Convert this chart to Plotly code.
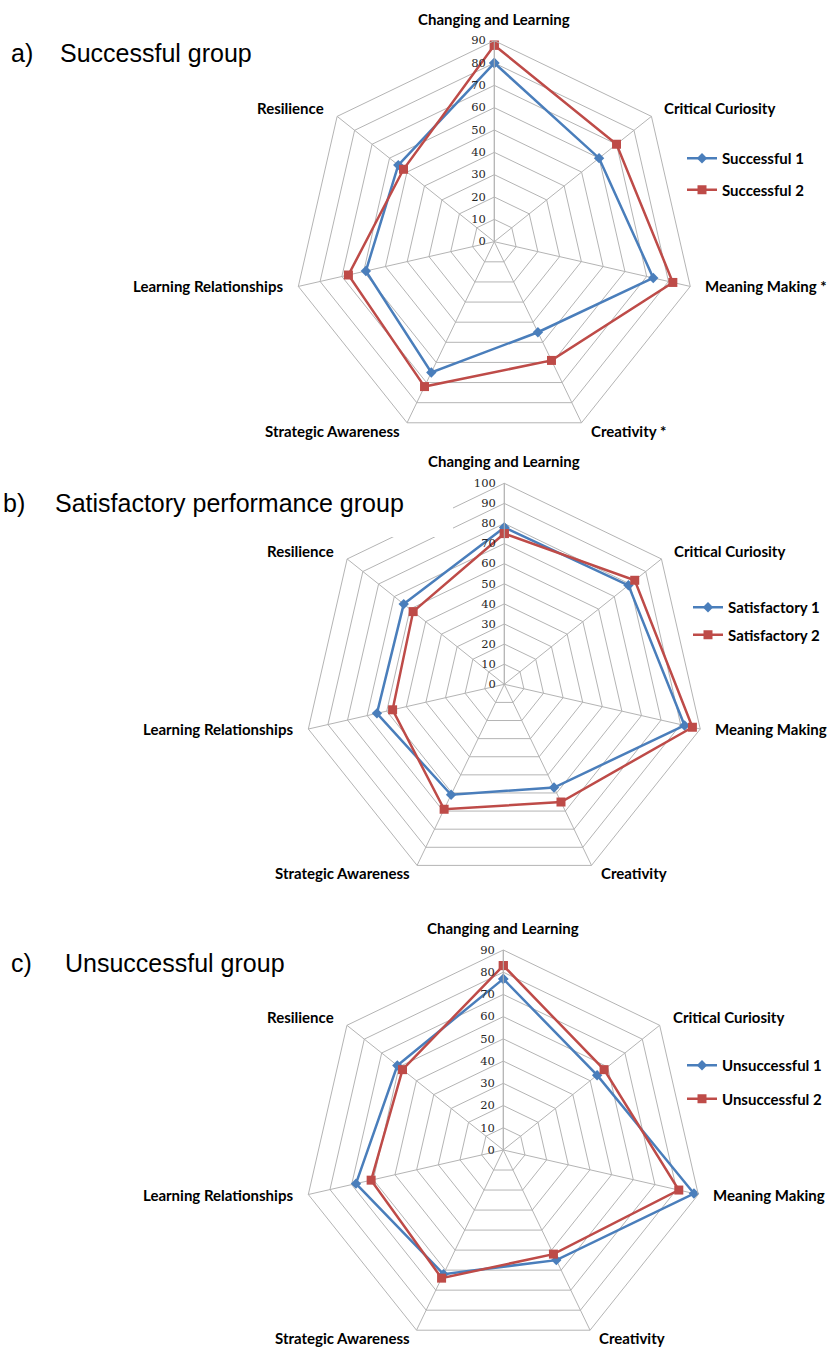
import math
import plotly.graph_objects as go

W, H = 833, 1350

cats_a = ["Changing and Learning", "Critical Curiosity", "Meaning Making *", "Creativity *",
          "Strategic Awareness", "Learning Relationships", "Resilience"]
cats_bc = ["Changing and Learning", "Critical Curiosity", "Meaning Making", "Creativity",
           "Strategic Awareness", "Learning Relationships", "Resilience"]

successful_1 = [80, 60, 73, 45, 65, 59, 55]
successful_2 = [88, 70, 82, 59, 72, 67, 52]
satisfactory_1 = [78, 79, 92, 57, 61, 65, 64]
satisfactory_2 = [75, 83, 96, 65, 69, 57, 58]
unsuccessful_1 = [77, 54, 88, 55, 62, 68, 61]
unsuccessful_2 = [83, 58, 81, 52, 64, 61, 58]

titles = [("a)", "Successful group"), ("b)", "Satisfactory performance group"), ("c)", "Unsuccessful group")]

BLUE = "#4A7EBB"
RED = "#BE4B48"
GRID = "#B4B4B4"
LABEL_FONT = dict(family="Lato", size=15, color="#000000", weight="bold")
LEGEND_FONT = dict(family="Lato", size=15, color="#000000", weight="bold")


def dom(cx, cy, R):
    return dict(x=[(cx - R) / W, (cx + R) / W], y=[(H - cy - R) / H, (H - cy + R) / H])


def closed(v):
    return list(v) + [v[0]]


fig = go.Figure()

panels = [
    ("polar", "legend", cats_a, successful_1, successful_2, "Successful 1", "Successful 2", 90),
    ("polar2", "legend2", cats_bc, satisfactory_1, satisfactory_2, "Satisfactory 1", "Satisfactory 2", 100),
    ("polar3", "legend3", cats_bc, unsuccessful_1, unsuccessful_2, "Unsuccessful 1", "Unsuccessful 2", 90),
]

for sp, lg, cats, v1, v2, n1, n2, rmax in panels:
    fig.add_trace(go.Scatterpolar(
        r=closed(v1), theta=closed(cats), subplot=sp, legend=lg, name=n1,
        mode="lines+markers", legendgroup=n1,
        line=dict(color=BLUE, width=2.5),
        marker=dict(symbol="diamond", size=8, color=BLUE)))
    fig.add_trace(go.Scatterpolar(
        r=closed(v2), theta=closed(cats), subplot=sp, legend=lg, name=n2,
        mode="lines+markers", legendgroup=n2,
        line=dict(color=RED, width=2.5),
        marker=dict(symbol="square", size=9, color=RED)))

# centre x, centre y (px from top), outer-ring radius (px)
geo = [(494.3, 241.7, 201), (504.3, 684.3, 201), (503.3, 1150.0, 200)]

# label offsets from each outer vertex (px), clockwise from the top axis
lab_off = [(0, -22, "center"), (11, -8, "left"), (13, 0, "left"), (7, 8, "left"),
           (-5, 8, "right"), (-13, 0, "right"), (-11, -8, "right")]

for i, (sp, lg, cats, v1, v2, n1, n2, rmax) in enumerate(panels):
    cx, cy, R = geo[i]
    fig.update_layout(**{sp: dict(
        domain=dom(cx, cy, R),
        bgcolor="white",
        gridshape="linear",
        radialaxis=dict(range=[0, rmax], dtick=10, angle=90, tickangle=90,
                        side="counterclockwise",
                        showline=True, linecolor=GRID, linewidth=1,
                        gridcolor=GRID, gridwidth=1,
                        ticks="outside", ticklen=4, tickcolor="rgba(0,0,0,0)",
                        tickfont=dict(family="DejaVu Serif", size=11.5, color="#262626")),
        angularaxis=dict(rotation=90, direction="clockwise", type="category",
                         categoryarray=cats, showticklabels=False,
                         showline=True, linecolor=GRID, linewidth=1,
                         gridcolor=GRID, gridwidth=1, ticks=""),
    )})
    n = len(cats)
    for k, cat in enumerate(cats):
        th = 2 * math.pi * k / n
        vx = cx + R * math.sin(th)
        vy = cy - R * math.cos(th)
        dx, dy, anc = lab_off[k]
        fig.add_annotation(text=cat, xref="paper", yref="paper",
                           x=(vx + dx) / W, y=(H - (vy + dy)) / H,
                           xanchor=anc, yanchor="middle", showarrow=False,
                           font=LABEL_FONT)

legend_pos = [(682, 142, 9), (688, 591, 5), (682, 1049, 11)]
for i, lg in enumerate(["legend", "legend2", "legend3"]):
    lx, ly, gap = legend_pos[i]
    fig.update_layout(**{lg: dict(
        x=lx / W, y=(H - ly) / H, xanchor="left", yanchor="top",
        bgcolor="rgba(0,0,0,0)", font=LEGEND_FONT, tracegroupgap=gap,
        traceorder="grouped")})

# white box behind title b
fig.add_shape(type="rect", xref="paper", yref="paper",
              x0=0, x1=453 / W, y0=(H - 537) / H, y1=(H - 474) / H,
              fillcolor="white", line=dict(width=0), layer="above")

title_pos = [(9, 58, 53), (1, 53, 503), (9, 63, 963)]
for (lab, txt), (xl, xt, yc) in zip(titles, title_pos):
    for s, xx in ((lab, xl), (txt, xt)):
        fig.add_annotation(text=s, xref="paper", yref="paper", x=xx / W, y=(H - yc) / H,
                           xanchor="left", yanchor="middle", showarrow=False,
                           font=dict(family="Liberation Sans", size=25, color="#000000"))

fig.update_layout(width=W, height=H, margin=dict(l=0, r=0, t=0, b=0),
                  paper_bgcolor="white", plot_bgcolor="white", showlegend=True)

fig.write_html("out.html", config={"displayModeBar": False},
               post_script="document.body.style.margin='0px';document.body.style.padding='0px';")
